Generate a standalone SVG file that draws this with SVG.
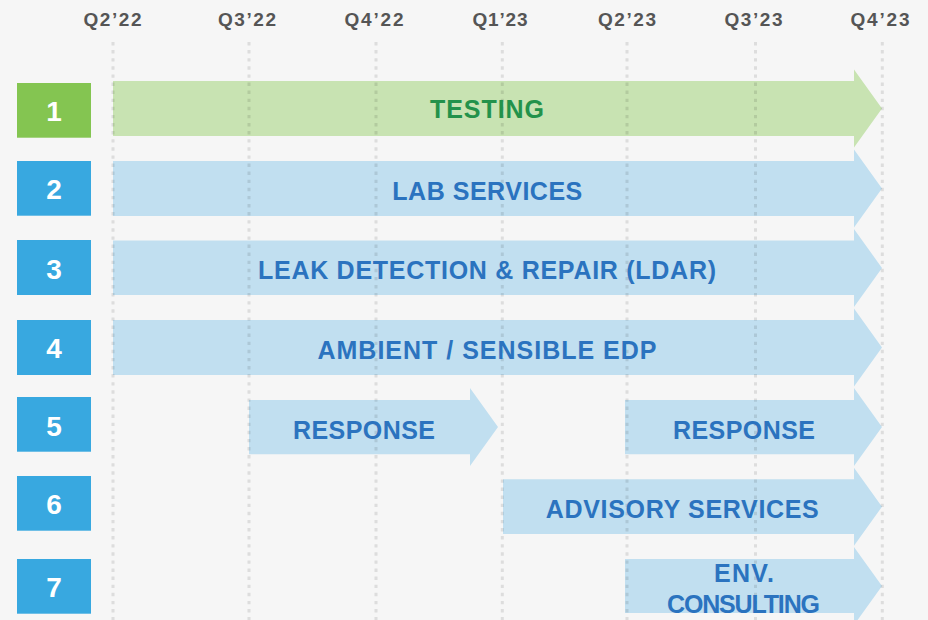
<svg xmlns="http://www.w3.org/2000/svg" width="928" height="620" viewBox="0 0 928 620">
  <style>
    .q { font-family: "Liberation Sans", Arial, sans-serif; font-weight: bold; font-size: 19px; fill: #555555; text-anchor: middle; }
    .num { font-family: "Liberation Sans", Arial, sans-serif; font-weight: bold; font-size: 28px; fill: #ffffff; text-anchor: middle; }
    .lbl { font-family: "Liberation Sans", Arial, sans-serif; font-weight: bold; font-size: 25px; text-anchor: middle; }
    .blue .bar { fill: #c1dff0; }
    .blue .box { fill: #38a8e0; }
    .blue .lbl { fill: #2b73bf; }
    .green .bar { fill: #c8e3b2; }
    .green .box { fill: #84c551; }
    .green .lbl { fill: #23924b; }
    .grid line { stroke: #000000; stroke-opacity: 0.1; stroke-width: 3; stroke-dasharray: 3.4 4.7; }
  </style>

  <rect x="0" y="0" width="928" height="620" fill="#f6f6f6"/>

  <!-- quarter headings -->
  <g id="quarters">
    <text class="q" x="112.5" y="26" textLength="58" lengthAdjust="spacing">Q2’22</text>
    <text class="q" x="247" y="26" textLength="58" lengthAdjust="spacing">Q3’22</text>
    <text class="q" x="374" y="26" textLength="59" lengthAdjust="spacing">Q4’22</text>
    <text class="q" x="500" y="26" textLength="55" lengthAdjust="spacing">Q1’23</text>
    <text class="q" x="627" y="26" textLength="58" lengthAdjust="spacing">Q2’23</text>
    <text class="q" x="753.5" y="26" textLength="58" lengthAdjust="spacing">Q3’23</text>
    <text class="q" x="880" y="26" textLength="59" lengthAdjust="spacing">Q4’23</text>
  </g>

  <!-- timeline bars -->
  <g id="row1" class="green">
    <path class="bar" d="M113,81 H854 V69.5 L882,108.5 L854,147.5 V136 H113 Z"/>
  </g>
  <g id="row2" class="blue">
    <path class="bar" d="M113,161 H854 V149.5 L882,188.5 L854,227.5 V216 H113 Z"/>
  </g>
  <g id="row3" class="blue">
    <path class="bar" d="M113,240.5 H854 V229 L882,268 L854,307 V295 H113 Z"/>
  </g>
  <g id="row4" class="blue">
    <path class="bar" d="M113,320 H854 V308.5 L882,347.5 L854,386.5 V375 H113 Z"/>
  </g>
  <g id="row5" class="blue">
    <path class="bar" d="M249,400 H470 V388 L498,427 L470,466 V454.3 H249 Z"/>
    <path class="bar" d="M625,400 H854 V388 L882,427 L854,466 V454.3 H625 Z"/>
  </g>
  <g id="row6" class="blue">
    <path class="bar" d="M503,479.3 H854 V467.7 L882,506.7 L854,545.7 V534 H503 Z"/>
  </g>
  <g id="row7" class="blue">
    <path class="bar" d="M625,559 H854 V547 L882,586 L854,625 V613 H625 Z"/>
  </g>

  <!-- dotted quarter guides -->
  <g id="connectors" class="grid">
    <line x1="113" y1="42" x2="113" y2="620"/>
    <line x1="249" y1="42" x2="249" y2="620"/>
    <line x1="376" y1="42" x2="376" y2="620"/>
    <line x1="502.3" y1="42" x2="502.3" y2="620"/>
    <line x1="627" y1="42" x2="627" y2="620"/>
    <line x1="755.5" y1="42" x2="755.5" y2="620"/>
    <line x1="882.3" y1="42" x2="882.3" y2="620"/>
  </g>

  <!-- bar labels -->
  <g id="labels">
    <g class="green"><text class="lbl" x="487" y="118" font-size="24.5" textLength="114" lengthAdjust="spacing">TESTING</text></g>
    <g class="blue">
      <text class="lbl" x="487.3" y="199.5" textLength="190" lengthAdjust="spacing">LAB SERVICES</text>
      <text class="lbl" x="487" y="279" textLength="458" lengthAdjust="spacing">LEAK DETECTION &amp; REPAIR (LDAR)</text>
      <text class="lbl" x="487" y="359.3" textLength="339" lengthAdjust="spacing">AMBIENT / SENSIBLE EDP</text>
      <text class="lbl" x="364" y="439" textLength="142" lengthAdjust="spacing">RESPONSE</text>
      <text class="lbl" x="744" y="439" textLength="142" lengthAdjust="spacing">RESPONSE</text>
      <text class="lbl" x="682.3" y="518.3" textLength="273" lengthAdjust="spacing">ADVISORY SERVICES</text>
      <text class="lbl" x="744" y="582.3" font-size="23.5" textLength="60" lengthAdjust="spacing">ENV.</text>
      <text class="lbl" x="743.5" y="612.5" font-size="22" textLength="153" lengthAdjust="spacing">CONSULTING</text>
    </g>
  </g>

  <!-- row number badges -->
  <g id="badge1" class="green">
    <rect class="box" x="17" y="83" width="74" height="54.7"/>
    <text class="num" x="54" y="120.5">1</text>
  </g>
  <g id="badge2" class="blue">
    <rect class="box" x="17" y="161" width="74" height="54.7"/>
    <text class="num" x="54" y="199">2</text>
  </g>
  <g id="badge3" class="blue">
    <rect class="box" x="17" y="240" width="74" height="55"/>
    <text class="num" x="54" y="278.5">3</text>
  </g>
  <g id="badge4" class="blue">
    <rect class="box" x="17" y="320" width="74" height="55"/>
    <text class="num" x="54" y="358">4</text>
  </g>
  <g id="badge5" class="blue">
    <rect class="box" x="17" y="397" width="74" height="54.7"/>
    <text class="num" x="54" y="435.5">5</text>
  </g>
  <g id="badge6" class="blue">
    <rect class="box" x="17" y="476" width="74" height="54.7"/>
    <text class="num" x="54" y="514">6</text>
  </g>
  <g id="badge7" class="blue">
    <rect class="box" x="17" y="559" width="74" height="54.7"/>
    <text class="num" x="54" y="597">7</text>
  </g>
</svg>
